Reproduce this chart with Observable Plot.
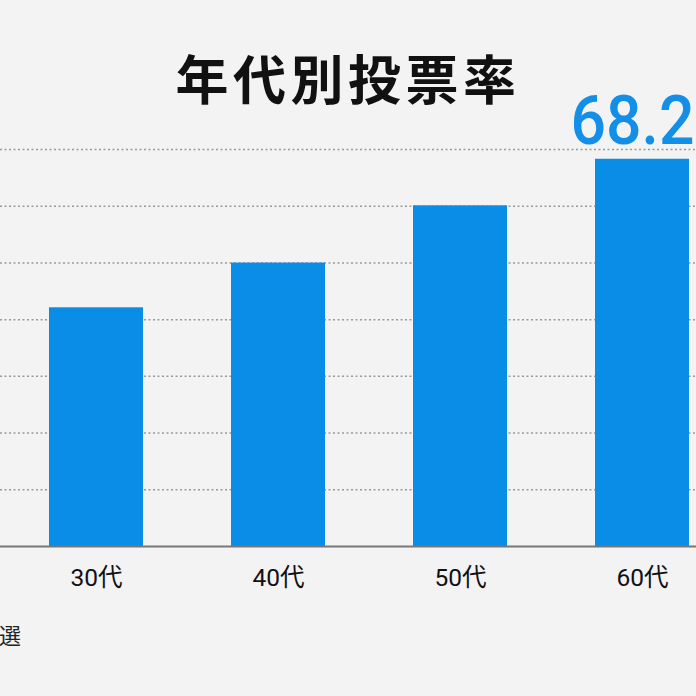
<!DOCTYPE html>
<html>
<head>
<meta charset="utf-8">
<script src="https://cdn.jsdelivr.net/npm/d3@7"></script>
<script src="https://cdn.jsdelivr.net/npm/@observablehq/plot@0.6"></script>
<style>
  html, body { margin: 0; padding: 0; background: #f3f3f3; overflow: hidden; width: 696px; height: 696px; }
  #wrap { position: relative; width: 696px; height: 696px; }
  #title { position: absolute; left: 0; width: 696px; top: 40px; text-align: center;
           font-family: "Noto Sans CJK JP", sans-serif; font-weight: 700; font-size: 53px;
           letter-spacing: 4.5px; color: #111; line-height: 74px; }
  #caption { position: absolute; left: -1px; top: 616px; font-family: "Noto Sans CJK JP", sans-serif;
             font-size: 22px; color: #222; line-height: 36px; }
  #chart { position: absolute; left: 0; top: 0; }
</style>
</head>
<body>
<div id="wrap">
  <div id="chart"></div>
  <div id="title">年代別投票率</div>
  <div id="caption">選</div>
</div>
<script>
// Data (2014 衆院選 年代別投票率, visible categories)
const ageGroups = ["30代", "40代", "50代", "60代"];
const turnout = [42.09, 49.98, 60.07, 68.28];
const gridTicks = [10, 20, 30, 40, 50, 60, 70];
const highlightLabel = ["68.28%"];

const data = ageGroups.map((g, i) => ({ group: g, value: turnout[i] }));
const highlighted = data.filter(d => d.group === "60代").map((d, i) => ({ ...d, label: highlightLabel[i] }));

const chart = Plot.plot({
  width: 696,
  height: 696,
  marginTop: 149,
  marginBottom: 150,
  marginLeft: 0,
  marginRight: 0,
  style: { background: "transparent", fontFamily: "Roboto, 'Noto Sans CJK JP', sans-serif", overflow: "hidden" },
  x: { domain: ageGroups, range: [4.4, 734], paddingInner: 0.482, paddingOuter: 0.241, label: null },
  y: { domain: [0, 70], axis: null },
  marks: [
    Plot.ruleY(gridTicks, { stroke: "#9a9a9a", strokeWidth: 1.5, strokeDasharray: "2,2.5" }),
    Plot.barY(data, { x: "group", y: "value", fill: "#0a8de6" }),
    Plot.ruleY([0], { stroke: "#777", strokeWidth: 2 }),
    Plot.axisX({ tickSize: 0, tickPadding: 22, fontSize: 24.5, color: "#111", label: null }),
    Plot.text(highlighted, { x: "group", y: "value", text: "label", lineAnchor: "bottom", dy: -15,
      fill: "#138fe8", fontSize: 68, fontWeight: 500, fontFamily: "Roboto, sans-serif", textAnchor: "start", dx: -72 })
  ]
});
// condense the big value label horizontally to mimic the reference's narrow numerals
d3.select(chart).selectAll("g[aria-label='text'] text").each(function () {
  const t = this.getAttribute("transform") || "";
  this.setAttribute("transform", t + " scale(0.92,1)");
});
document.getElementById("chart").appendChild(chart);
</script>
</body>
</html>
